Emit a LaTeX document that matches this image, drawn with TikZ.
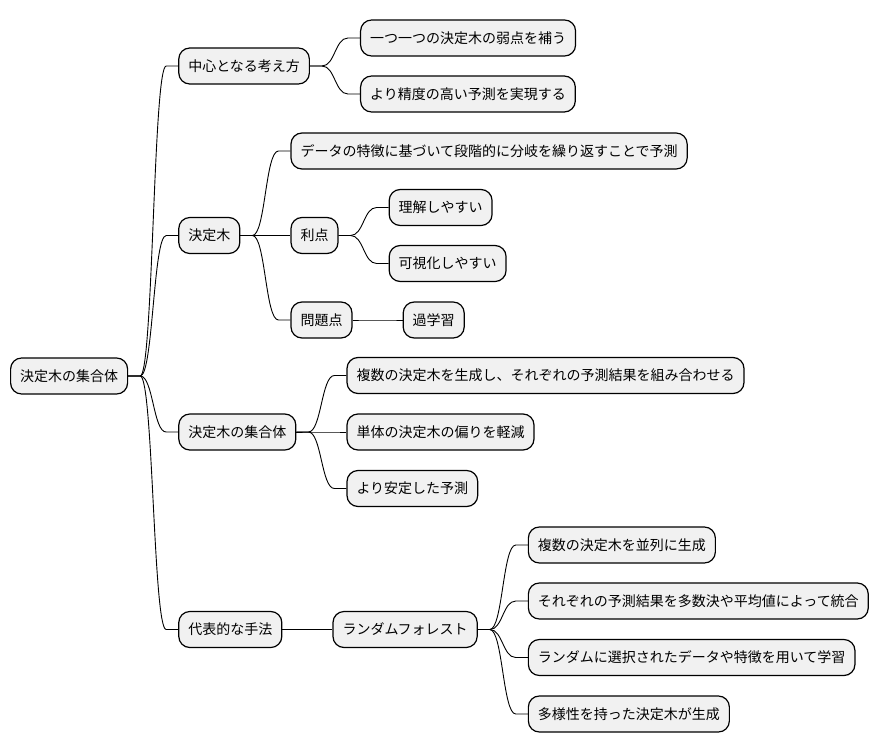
\documentclass[tikz,border=0pt]{standalone}
\usepackage{fontspec}
\newfontfamily\jpfont{Noto Sans CJK JP}
\usepackage{xcolor}
\usepackage{tikz}
\usetikzlibrary{positioning}

\definecolor{boxgray}{HTML}{F1F1F1}

\begin{document}
\begin{tikzpicture}[x=1pt, y=1pt, node distance=50pt]
    % Define styles
    \tikzstyle{topic} = [rectangle, rounded corners=11pt, minimum height=36pt, inner xsep=9.5pt, text centered, draw=black, line width=1.2pt, fill=boxgray, font=\jpfont\fontsize{14}{16}\selectfont]
    \tikzstyle{branch} = [line width=0.9pt, to path={-- ([xshift=12pt]\tikztostart) .. controls ([xshift=25pt]\tikztostart) and ([xshift=-25pt]\tikztotarget) .. ([xshift=-12pt]\tikztotarget) -- (\tikztotarget)}]

    \useasboundingbox (0,0) rectangle (880,-752);

    % Nodes
    \node[topic, anchor=west] (root) at (10,-376) {決定木の集合体};
    \node[topic, right=of root, yshift=310pt] (idea) {中心となる考え方};
    \node[topic, right=of idea, yshift=28pt] (idea_a) {一つ一つの決定木の弱点を補う};
    \node[topic, right=of idea, yshift=-28pt] (idea_b) {より精度の高い予測を実現する};
    \node[topic, right=of root, yshift=140.5pt] (tree) {決定木};
    \node[topic, right=of tree, yshift=84.5pt] (tree_rule) {データの特徴に基づいて段階的に分岐を繰り返すことで予測};
    \node[topic, right=of tree] (merit) {利点};
    \node[topic, right=of merit, yshift=28pt] (merit_a) {理解しやすい};
    \node[topic, right=of merit, yshift=-28pt] (merit_b) {可視化しやすい};
    \node[topic, right=of tree, yshift=-84.5pt] (issue) {問題点};
    \node[topic, right=of issue] (issue_a) {過学習};
    \node[topic, right=of root, yshift=-56pt] (ensemble) {決定木の集合体};
    \node[topic, right=of ensemble, yshift=56.5pt] (ens_a) {複数の決定木を生成し、それぞれの予測結果を組み合わせる};
    \node[topic, right=of ensemble] (ens_b) {単体の決定木の偏りを軽減};
    \node[topic, right=of ensemble, yshift=-56.5pt] (ens_c) {より安定した予測};
    \node[topic, right=of root, yshift=-253.5pt] (method) {代表的な手法};
    \node[topic, right=of method] (forest) {ランダムフォレスト};
    \node[topic, right=of forest, yshift=84.5pt] (forest_a) {複数の決定木を並列に生成};
    \node[topic, right=of forest, yshift=28.5pt] (forest_b) {それぞれの予測結果を多数決や平均値によって統合};
    \node[topic, right=of forest, yshift=-28pt] (forest_c) {ランダムに選択されたデータや特徴を用いて学習};
    \node[topic, right=of forest, yshift=-84.5pt] (forest_d) {多様性を持った決定木が生成};

    % Connections
    \draw[branch] (root.east) to (idea.west);
    \draw[branch] (idea.east) to (idea_a.west);
    \draw[branch] (idea.east) to (idea_b.west);
    \draw[branch] (root.east) to (tree.west);
    \draw[branch] (tree.east) to (tree_rule.west);
    \draw[branch] (tree.east) to (merit.west);
    \draw[branch] (merit.east) to (merit_a.west);
    \draw[branch] (merit.east) to (merit_b.west);
    \draw[branch] (tree.east) to (issue.west);
    \draw[branch] (issue.east) to (issue_a.west);
    \draw[branch] (root.east) to (ensemble.west);
    \draw[branch] (ensemble.east) to (ens_a.west);
    \draw[branch] (ensemble.east) to (ens_b.west);
    \draw[branch] (ensemble.east) to (ens_c.west);
    \draw[branch] (root.east) to (method.west);
    \draw[branch] (method.east) to (forest.west);
    \draw[branch] (forest.east) to (forest_a.west);
    \draw[branch] (forest.east) to (forest_b.west);
    \draw[branch] (forest.east) to (forest_c.west);
    \draw[branch] (forest.east) to (forest_d.west);
\end{tikzpicture}
\end{document}
